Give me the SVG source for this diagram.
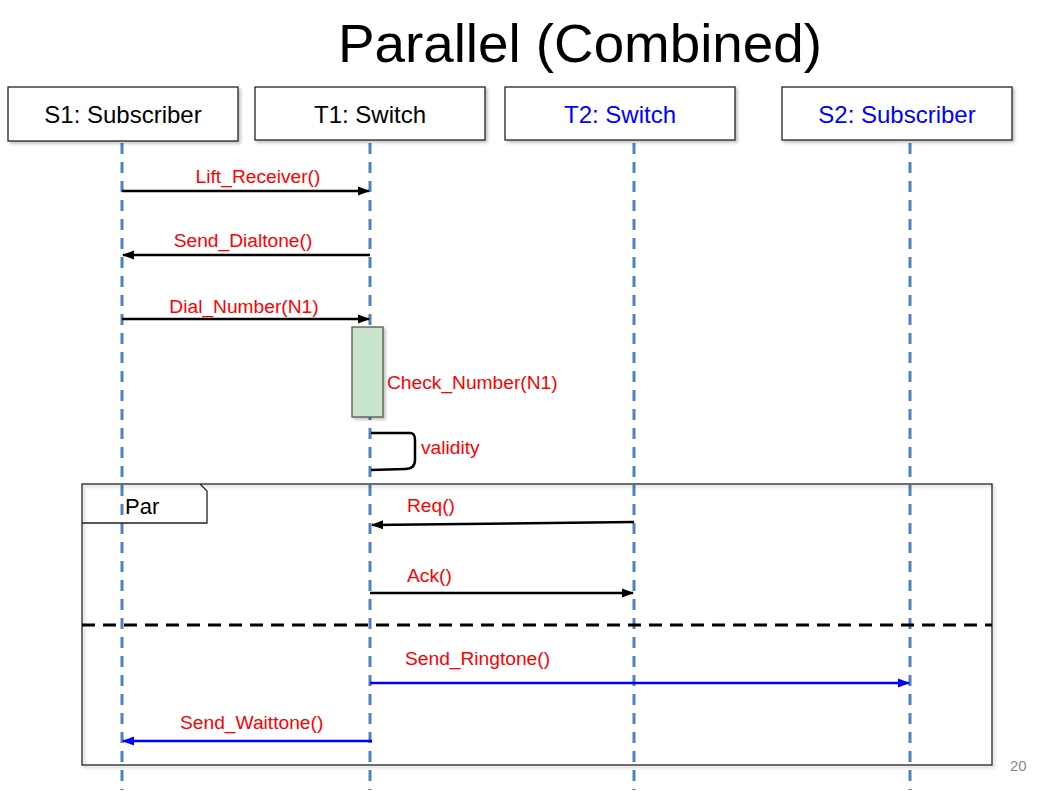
<svg xmlns="http://www.w3.org/2000/svg" width="1053" height="791" viewBox="0 0 1053 791">
<defs>
<filter id="sh" x="-10%" y="-10%" width="130%" height="140%">
<feDropShadow dx="2" dy="2" stdDeviation="1.5" flood-color="#000" flood-opacity="0.25"/>
</filter>
<marker id="ab" markerWidth="12" markerHeight="10" refX="11" refY="5" orient="auto" markerUnits="userSpaceOnUse">
<path d="M0,0.5 L12,5 L0,9.5 Z" fill="#000"/>
</marker>
<marker id="abl" markerWidth="12" markerHeight="10" refX="11" refY="5" orient="auto" markerUnits="userSpaceOnUse">
<path d="M0,0.5 L12,5 L0,9.5 Z" fill="#0000ff"/>
</marker>
</defs>
<style>
.hd{fill:#fff;stroke:#222;stroke-width:1.3}
.ht{font-family:"Liberation Sans",Arial,sans-serif;font-size:24px;text-anchor:middle}
.life{stroke:#4f81bd;stroke-width:3;stroke-dasharray:11 8;fill:none}
.msg{stroke:#000;stroke-width:2.5;fill:none;marker-end:url(#ab)}
.msgb{stroke:#0000ff;stroke-width:2.5;fill:none;marker-end:url(#abl)}
.lbl{font-family:"Liberation Sans",Arial,sans-serif;font-size:19.2px;fill:#ff0000}
</style>
<rect width="1053" height="791" fill="#fff"/>
<text x="580" y="62" font-family="Liberation Sans, Arial, sans-serif" font-size="54" text-anchor="middle" textLength="484" lengthAdjust="spacingAndGlyphs">Parallel (Combined)</text>

<g id="lifelines">
<line class="life" x1="122" y1="143" x2="122" y2="790"/>
<line class="life" x1="370" y1="143" x2="370" y2="790"/>
<line class="life" x1="634" y1="143" x2="634" y2="790"/>
<line class="life" x1="910" y1="143" x2="910" y2="790"/>
</g>

<g id="S1">
<rect class="hd" x="8" y="87" width="230" height="54" filter="url(#sh)"/>
<text class="ht" x="123" y="123" fill="#000">S1: Subscriber</text>
</g>
<g id="T1">
<rect class="hd" x="255" y="87" width="230" height="53" filter="url(#sh)"/>
<text class="ht" x="370" y="123" fill="#000">T1: Switch</text>
</g>
<g id="T2">
<rect class="hd" x="505" y="87" width="230" height="53" filter="url(#sh)"/>
<text class="ht" x="620" y="123" fill="#0000ff">T2: Switch</text>
</g>
<g id="S2">
<rect class="hd" x="782" y="87" width="230" height="53" filter="url(#sh)"/>
<text class="ht" x="897" y="123" fill="#0000ff">S2: Subscriber</text>
</g>

<g id="par-frame">
<rect x="82" y="484" width="910" height="281" fill="none" stroke="#222" stroke-width="1.3" filter="url(#sh)"/>
<path d="M82,523 L207,523 L207,491 L200,484" fill="none" stroke="#222" stroke-width="1.3"/>
<text x="125" y="514" font-family="Liberation Sans, Arial, sans-serif" font-size="22" fill="#000">Par</text>
<line x1="82" y1="625" x2="992" y2="625" stroke="#000" stroke-width="3" stroke-dasharray="13 8"/>
</g>

<g id="activation">
<rect x="352" y="327" width="31" height="90" fill="#c9e5cc" stroke="#555" stroke-width="1.3" filter="url(#sh)"/>
</g>

<g id="connectors">
<line class="msg" x1="122" y1="191" x2="369" y2="191"/>
<line class="msg" x1="370" y1="255" x2="123" y2="255"/>
<line class="msg" x1="122" y1="319" x2="369" y2="319"/>
<path d="M371,433 L410,433 Q415,433 415,440 L415,460 Q415,469 405,469 L371,470" fill="none" stroke="#000" stroke-width="2.5"/>
<line class="msg" x1="634" y1="522" x2="372" y2="525"/>
<line class="msg" x1="370" y1="593" x2="633" y2="593"/>
<line class="msgb" x1="370" y1="683" x2="909" y2="683"/>
<line class="msgb" x1="372" y1="741" x2="123" y2="741"/>
</g>

<g id="labels">
<text class="lbl" x="258" y="183" text-anchor="middle">Lift_Receiver()</text>
<text class="lbl" x="243" y="247" text-anchor="middle">Send_Dialtone()</text>
<text class="lbl" x="244" y="313" text-anchor="middle">Dial_Number(N1)</text>
<text class="lbl" x="387" y="389">Check_Number(N1)</text>
<text class="lbl" x="421" y="454">validity</text>
<text class="lbl" x="407" y="512">Req()</text>
<text class="lbl" x="407" y="582">Ack()</text>
<text class="lbl" x="405" y="665">Send_Ringtone()</text>
<text class="lbl" x="180" y="729">Send_Waittone()</text>
</g>
<text x="1010" y="771" font-family="Liberation Sans, Arial, sans-serif" font-size="15" fill="#888">20</text>
</svg>
